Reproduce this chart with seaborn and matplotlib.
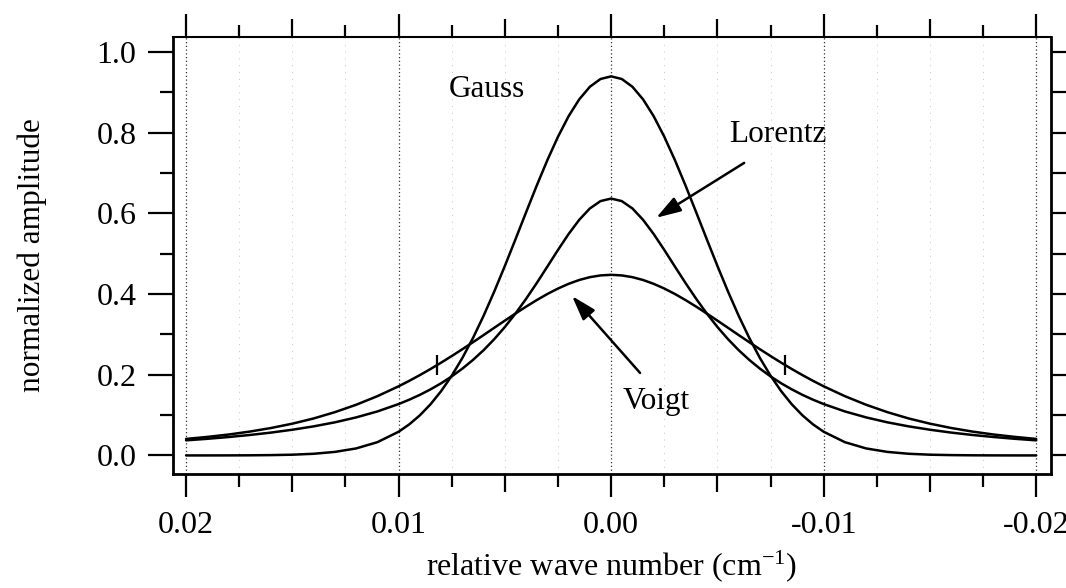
import numpy as np
import pandas as pd
import matplotlib
matplotlib.use("Agg")
import matplotlib.pyplot as plt
import seaborn as sns
from matplotlib.ticker import FixedLocator, FixedFormatter

# ---------------- data ----------------
wavenumber = [
    0.020, 0.019, 0.018, 0.017, 0.016, 0.015, 0.014, 0.013, 0.012, 0.011,
    0.0100, 0.0095, 0.0090, 0.0085, 0.0080, 0.0075, 0.0070, 0.0065, 0.0060, 0.0055,
    0.0050, 0.0045, 0.0040, 0.0035, 0.0030, 0.0025, 0.0020, 0.0015, 0.0010, 0.0005,
    0.0,
    -0.0005, -0.0010, -0.0015, -0.0020, -0.0025, -0.0030, -0.0035, -0.0040, -0.0045, -0.0050,
    -0.0055, -0.0060, -0.0065, -0.0070, -0.0075, -0.0080, -0.0085, -0.0090, -0.0095, -0.0100,
    -0.011, -0.012, -0.013, -0.014, -0.015, -0.016, -0.017, -0.018, -0.019, -0.020,
]

gauss = [
    0.0000, 0.0000, 0.0001, 0.0003, 0.0008, 0.0018, 0.0041, 0.0087, 0.0173, 0.0328,
    0.0587, 0.0769, 0.0994, 0.1267, 0.1593, 0.1975, 0.2415, 0.2911, 0.3462, 0.4061,
    0.4697, 0.5358, 0.6028, 0.6689, 0.7319, 0.7899, 0.8408, 0.8826, 0.9137, 0.9329,
    0.9394,
    0.9329, 0.9137, 0.8826, 0.8408, 0.7899, 0.7319, 0.6689, 0.6028, 0.5358, 0.4697,
    0.4061, 0.3462, 0.2911, 0.2415, 0.1975, 0.1593, 0.1267, 0.0994, 0.0769, 0.0587,
    0.0328, 0.0173, 0.0087, 0.0041, 0.0018, 0.0008, 0.0003, 0.0001, 0.0000, 0.0000,
]

lorentz = [
    0.0374, 0.0412, 0.0456, 0.0507, 0.0566, 0.0637, 0.0720, 0.0820, 0.0942, 0.1090,
    0.1273, 0.1381, 0.1501, 0.1637, 0.1788, 0.1959, 0.2151, 0.2367, 0.2609, 0.2881,
    0.3183, 0.3517, 0.3882, 0.4272, 0.4681, 0.5093, 0.5488, 0.5840, 0.6121, 0.6303,
    0.6366,
    0.6303, 0.6121, 0.5840, 0.5488, 0.5093, 0.4681, 0.4272, 0.3882, 0.3517, 0.3183,
    0.2881, 0.2609, 0.2367, 0.2151, 0.1959, 0.1788, 0.1637, 0.1501, 0.1381, 0.1273,
    0.1090, 0.0942, 0.0820, 0.0720, 0.0637, 0.0566, 0.0507, 0.0456, 0.0412, 0.0374,
]

voigt = [
    0.0409, 0.0459, 0.0518, 0.0591, 0.0680, 0.0787, 0.0916, 0.1072, 0.1255, 0.1468,
    0.1713, 0.1848, 0.1991, 0.2141, 0.2299, 0.2463, 0.2632, 0.2806, 0.2983, 0.3163,
    0.3341, 0.3517, 0.3688, 0.3850, 0.4001, 0.4136, 0.4253, 0.4348, 0.4418, 0.4461,
    0.4476,
    0.4461, 0.4418, 0.4348, 0.4253, 0.4136, 0.4001, 0.3850, 0.3688, 0.3517, 0.3341,
    0.3163, 0.2983, 0.2806, 0.2632, 0.2463, 0.2299, 0.2141, 0.1991, 0.1848, 0.1713,
    0.1468, 0.1255, 0.1072, 0.0916, 0.0787, 0.0680, 0.0591, 0.0518, 0.0459, 0.0409,
]

profile_names = ["Gauss", "Lorentz", "Voigt"]

# half-maximum markers on the Voigt profile
voigt_halfmax_x = [0.0082, -0.0082]
voigt_halfmax_y = [0.224, 0.224]

x_major_ticks = [0.02, 0.015, 0.01, 0.005, 0.0, -0.005, -0.01, -0.015, -0.02]
x_major_labels = ["0.02", "", "0.01", "", "0.00", "", "-0.01", "", "-0.02"]
x_minor_ticks = [0.0175, 0.0125, 0.0075, 0.0025, -0.0025, -0.0075, -0.0125, -0.0175]
y_major_ticks = [0.0, 0.2, 0.4, 0.6, 0.8, 1.0]
y_major_labels = ["0.0", "0.2", "0.4", "0.6", "0.8", "1.0"]
y_minor_ticks = [0.1, 0.3, 0.5, 0.7, 0.9]

x_label = r"relative wave number (cm$^{\mathregular{-1}}$)"
y_label = "normalized amplitude"

# ---------------- styling ----------------
sns.set_theme(style="ticks")
plt.rcParams["font.family"] = ["Liberation Serif", "DejaVu Serif"]
plt.rcParams["mathtext.fontset"] = "custom"
plt.rcParams["mathtext.rm"] = "Liberation Serif"
plt.rcParams["mathtext.it"] = "Liberation Serif:italic"
plt.rcParams["axes.labelcolor"] = "black"
plt.rcParams["text.color"] = "black"

df = pd.concat(
    [
        pd.DataFrame({"x": wavenumber, "y": vals, "profile": name})
        for name, vals in zip(profile_names, [gauss, lorentz, voigt])
    ],
    ignore_index=True,
)

fig = plt.figure(figsize=(10.66, 5.88), dpi=100)
fig.patch.set_facecolor("white")
ax = fig.add_axes([0.162, 0.1939, 0.824, 0.7432])
ax.set_facecolor("white")

sns.lineplot(
    data=df, x="x", y="y", hue="profile", palette=["black"] * 3,
    legend=False, linewidth=1.8, ax=ax, estimator=None, sort=True,
)

ax.plot(voigt_halfmax_x, voigt_halfmax_y, linestyle="none", marker="|",
        markersize=14, markeredgewidth=1.6, color="black")

ax.set_xlim(0.02063, -0.0207)
ax.set_ylim(-0.046, 1.037)

# annotations
txt_kw = dict(fontsize=22.5, color="black", ha="left", va="baseline")
ax.text(0.00762, 0.888, "Gauss", **txt_kw)
ax.text(-0.00555, 0.777, "Lorentz", **txt_kw)
ax.text(-0.00052, 0.115, "Voigt", **txt_kw)

arrow_kw = dict(arrowstyle="-|>,head_length=1.0,head_width=0.32",
                color="black", lw=1.8, mutation_scale=15, shrinkA=0, shrinkB=0)
ax.annotate("", xy=(-0.00212, 0.589), xytext=(-0.00626, 0.725), arrowprops=arrow_kw)
ax.annotate("", xy=(0.00184, 0.395), xytext=(-0.00136, 0.2045), arrowprops=arrow_kw)

# axes labels
ax.set_xlabel(x_label, fontsize=23, color="black")
ax.set_ylabel(y_label, fontsize=22.5, color="black")
ax.xaxis.set_label_coords(0.5, -0.17)
ax.yaxis.set_label_coords(-0.143, 0.5)

# ticks
ax.xaxis.set_major_locator(FixedLocator(x_major_ticks))
ax.xaxis.set_major_formatter(FixedFormatter(x_major_labels))
ax.xaxis.set_minor_locator(FixedLocator(x_minor_ticks))
ax.yaxis.set_major_locator(FixedLocator(y_major_ticks))
ax.yaxis.set_major_formatter(FixedFormatter(y_major_labels))
ax.yaxis.set_minor_locator(FixedLocator(y_minor_ticks))

ax.tick_params(axis="both", which="both", direction="out", color="black",
               width=1.6, labelsize=23, labelcolor="black")
ax.tick_params(axis="x", which="both", top=True, bottom=True)
ax.tick_params(axis="y", which="both", left=True, right=True)
ax.tick_params(axis="x", which="major", length=16.5, pad=10)
ax.tick_params(axis="x", which="minor", length=9)
ax.tick_params(axis="y", which="major", length=18, pad=8)
ax.tick_params(axis="y", which="minor", length=9.4)

for s in ["left", "bottom", "right"]:
    ax.spines[s].set_linewidth(2.0)
    ax.spines[s].set_color("black")
ax.spines["top"].set_linewidth(1.5)
ax.spines["top"].set_color("black")

# grid
ax.xaxis.grid(True, which="major", color="#333333", linewidth=0.9,
              linestyle=(0, (1, 2)))
ax.xaxis.grid(True, which="minor", color="#c4c4c4", linewidth=0.7,
              linestyle=(0, (1, 6)))
ax.yaxis.grid(False)

# per-tick adjustments (medium x ticks at half steps, equal right ticks)
xt = ax.xaxis.get_major_ticks()
for i, t in enumerate(xt):
    if i % 2 == 1:
        t.tick1line.set_markersize(13)
        t.tick2line.set_markersize(13)
        t.gridline.set_color("#c4c4c4")
        t.gridline.set_linewidth(0.7)
        t.gridline.set_linestyle((0, (1, 6)))
for t in ax.yaxis.get_major_ticks():
    t.tick2line.set_markersize(11.5)
for t in ax.yaxis.get_minor_ticks():
    t.tick2line.set_markersize(11.5)

fig.savefig("out.png", dpi=100, facecolor="white")
